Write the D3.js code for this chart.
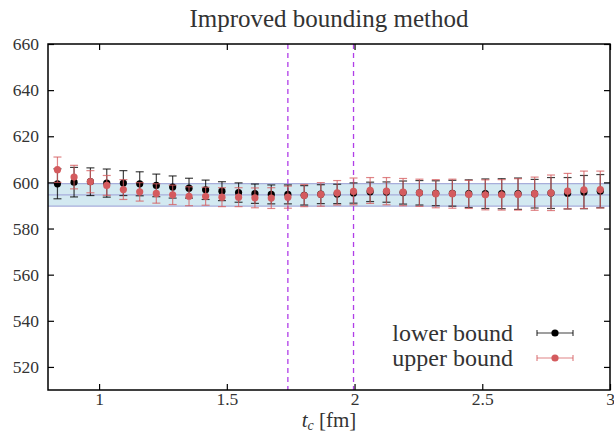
<!DOCTYPE html>
<html>
<head>
<meta charset="utf-8">
<script src="https://cdn.jsdelivr.net/npm/d3@7"></script>
<style>
  body { margin: 0; background: #fff; }
  text { font-family: "Liberation Serif", "DejaVu Serif", serif; fill: #333; }
</style>
</head>
<body>
<div id="chart"></div>
<script>
// t_c values (fm)
const tc = [0.837, 0.902, 0.966, 1.030, 1.095, 1.159, 1.224, 1.288, 1.352, 1.417,
            1.481, 1.546, 1.610, 1.674, 1.739, 1.803, 1.868, 1.932, 1.996, 2.061,
            2.125, 2.190, 2.254, 2.318, 2.383, 2.447, 2.512, 2.576, 2.640, 2.705,
            2.769, 2.834, 2.898, 2.962];

const lowerVal = [599.4, 600.1, 600.3, 599.7, 599.7, 599.4, 598.7, 598.0, 597.5, 596.8,
                  596.2, 595.6, 595.1, 594.8, 594.8, 594.4, 594.9, 595.0, 595.4, 595.9,
                  595.8, 595.6, 595.5, 595.3, 595.3, 595.1, 595.1, 595.1, 595.1, 595.1,
                  595.4, 595.3, 595.8, 596.2];
const lowerErr = [6.5, 6.4, 6.0, 6.1, 5.4, 5.2, 4.9, 4.8, 4.3, 4.2,
                  4.1, 4.2, 4.2, 4.1, 4.1, 4.2, 4.1, 4.2, 4.4, 4.2,
                  4.4, 5.0, 5.3, 5.4, 5.6, 6.0, 6.4, 6.5, 6.8, 6.2,
                  6.7, 6.8, 7.2, 7.2];

const upperVal = [605.5, 602.3, 600.3, 598.7, 596.9, 595.9, 595.2, 594.6, 594.0, 594.0,
                  593.6, 593.6, 593.3, 593.2, 593.6, 594.3, 594.8, 595.5, 596.1, 596.5,
                  596.2, 595.8, 595.5, 595.1, 595.1, 594.8, 594.6, 594.6, 594.8, 595.1,
                  595.5, 596.2, 596.8, 596.9];
const upperErr = [5.5, 5.1, 4.8, 4.3, 4.3, 4.0, 4.2, 4.2, 4.1, 3.9,
                  4.1, 4.1, 4.3, 4.5, 4.8, 4.8, 5.1, 5.3, 5.8, 5.6,
                  5.9, 5.9, 5.9, 6.1, 6.3, 6.1, 6.5, 6.6, 6.8, 7.2,
                  7.7, 7.7, 8.1, 8.0];

// final band: lower edge, central value, upper edge
const band = [589.7, 594.6, 599.5];
// fit window
const windowLines = [1.739, 1.996];

const xTicks = [1, 1.5, 2, 2.5, 3];
const yTicks = [520, 540, 560, 580, 600, 620, 640, 660];

const W = 614, H = 434;
const margin = { top: 44, right: 4, bottom: 44, left: 48 };

const svg = d3.select("#chart").append("svg")
    .attr("width", W)
    .attr("height", H);

const x = d3.scaleLinear().domain([0.8, 3.0]).range([margin.left, W - margin.right]);
const y = d3.scaleLinear().domain([510, 660]).range([H - margin.bottom, margin.top]);

// band
svg.append("rect")
    .attr("x", x(0.8))
    .attr("width", x(3.0) - x(0.8))
    .attr("y", y(band[2]))
    .attr("height", y(band[0]) - y(band[2]))
    .attr("fill", "#d3e9f1");

svg.append("g")
    .selectAll("line")
    .data(band)
    .join("line")
    .attr("x1", x(0.8))
    .attr("x2", x(3.0))
    .attr("y1", d => y(d))
    .attr("y2", d => y(d))
    .attr("stroke", "#a7aedb")
    .attr("stroke-width", 1.2);

// window lines
svg.append("g")
    .selectAll("line")
    .data(windowLines)
    .join("line")
    .attr("x1", d => x(d))
    .attr("x2", d => x(d))
    .attr("y1", y(660))
    .attr("y2", y(510))
    .attr("stroke", "#b03ee8")
    .attr("stroke-width", 1.3)
    .attr("stroke-dasharray", "5,4");

function drawSeries(vals, errs, color, barColor) {
    const g = svg.append("g");
    const data = tc.map((t, i) => ({ t, v: vals[i], e: errs[i] }));
    const cap = 4;
    g.selectAll("line.bar")
        .data(data)
        .join("line")
        .attr("class", "bar")
        .attr("x1", d => x(d.t)).attr("x2", d => x(d.t))
        .attr("y1", d => y(d.v - d.e)).attr("y2", d => y(d.v + d.e))
        .attr("stroke", barColor).attr("stroke-width", 1.2);
    g.selectAll("line.capTop")
        .data(data)
        .join("line")
        .attr("class", "capTop")
        .attr("x1", d => x(d.t) - cap).attr("x2", d => x(d.t) + cap)
        .attr("y1", d => y(d.v + d.e)).attr("y2", d => y(d.v + d.e))
        .attr("stroke", barColor).attr("stroke-width", 1.2);
    g.selectAll("line.capBot")
        .data(data)
        .join("line")
        .attr("class", "capBot")
        .attr("x1", d => x(d.t) - cap).attr("x2", d => x(d.t) + cap)
        .attr("y1", d => y(d.v - d.e)).attr("y2", d => y(d.v - d.e))
        .attr("stroke", barColor).attr("stroke-width", 1.2);
    g.selectAll("circle")
        .data(data)
        .join("circle")
        .attr("cx", d => x(d.t))
        .attr("cy", d => y(d.v))
        .attr("r", 3.6)
        .attr("fill", color);
}

drawSeries(lowerVal, lowerErr, "#000", "rgba(0,0,0,0.75)");
drawSeries(upperVal, upperErr, "#d45b5e", "rgba(212,91,94,0.75)");

// frame
svg.append("rect")
    .attr("x", x(0.8))
    .attr("y", y(660))
    .attr("width", x(3.0) - x(0.8))
    .attr("height", y(510) - y(660))
    .attr("fill", "none")
    .attr("stroke", "#000")
    .attr("stroke-width", 1.5);

// axes, ticks pointing inward
const xAxisB = d3.axisBottom(x).tickValues(xTicks).tickSizeInner(-6).tickSizeOuter(0)
    .tickFormat(d3.format("~g")).tickPadding(3);
const xAxisT = d3.axisTop(x).tickValues(xTicks).tickSizeInner(-6).tickSizeOuter(0).tickFormat("");
const yAxisL = d3.axisLeft(y).tickValues(yTicks).tickSizeInner(-6).tickSizeOuter(0).tickPadding(9);
const yAxisR = d3.axisRight(y).tickValues(yTicks).tickSizeInner(-6).tickSizeOuter(0).tickFormat("");

function styleAxis(g) {
    g.select(".domain").remove();
    g.selectAll(".tick line").attr("stroke", "#000").attr("stroke-width", 1.2);
    g.selectAll(".tick text").style("font-family", "'Liberation Serif', serif")
        .style("font-size", "17.5px").attr("fill", "#333");
}

svg.append("g").attr("transform", `translate(0,${y(510)})`).call(xAxisB).call(styleAxis);
svg.append("g").attr("transform", `translate(0,${y(660)})`).call(xAxisT).call(styleAxis);
svg.append("g").attr("transform", `translate(${x(0.8)},0)`).call(yAxisL).call(styleAxis);
svg.append("g").attr("transform", `translate(${x(3.0)},0)`).call(yAxisR).call(styleAxis);

// title
svg.append("text")
    .attr("x", (x(0.8) + x(3.0)) / 2)
    .attr("y", 27)
    .attr("text-anchor", "middle")
    .style("font-size", "25px")
    .text("Improved bounding method");

// x label
const xl = svg.append("text")
    .attr("x", (x(0.8) + x(3.0)) / 2)
    .attr("y", 427)
    .attr("text-anchor", "middle")
    .style("font-size", "21px");
xl.append("tspan").style("font-style", "italic").text("t");
xl.append("tspan").style("font-style", "italic").style("font-size", "14px").attr("dy", 3).text("c");
xl.append("tspan").attr("dy", -3).text(" [fm]");

// legend
const legend = [
    { label: "lower bound", color: "#000", bar: "rgba(0,0,0,0.75)" },
    { label: "upper bound", color: "#d45b5e", bar: "rgba(212,91,94,0.75)" }
];
const lg = svg.append("g")
    .selectAll("g")
    .data(legend)
    .join("g")
    .attr("transform", (d, i) => `translate(0,${333 + i * 25})`);
lg.append("text")
    .attr("x", 513)
    .attr("y", 8)
    .attr("text-anchor", "end")
    .style("font-size", "24px")
    .text(d => d.label);
lg.append("line")
    .attr("x1", 537).attr("x2", 573).attr("y1", 0).attr("y2", 0)
    .attr("stroke", d => d.bar).attr("stroke-width", 1.2);
lg.append("line")
    .attr("x1", 537).attr("x2", 537).attr("y1", -3).attr("y2", 3)
    .attr("stroke", d => d.bar).attr("stroke-width", 1.2);
lg.append("line")
    .attr("x1", 573).attr("x2", 573).attr("y1", -3).attr("y2", 3)
    .attr("stroke", d => d.bar).attr("stroke-width", 1.2);
lg.append("circle")
    .attr("cx", 555).attr("cy", 0).attr("r", 3.6)
    .attr("fill", d => d.color);
</script>
</body>
</html>
